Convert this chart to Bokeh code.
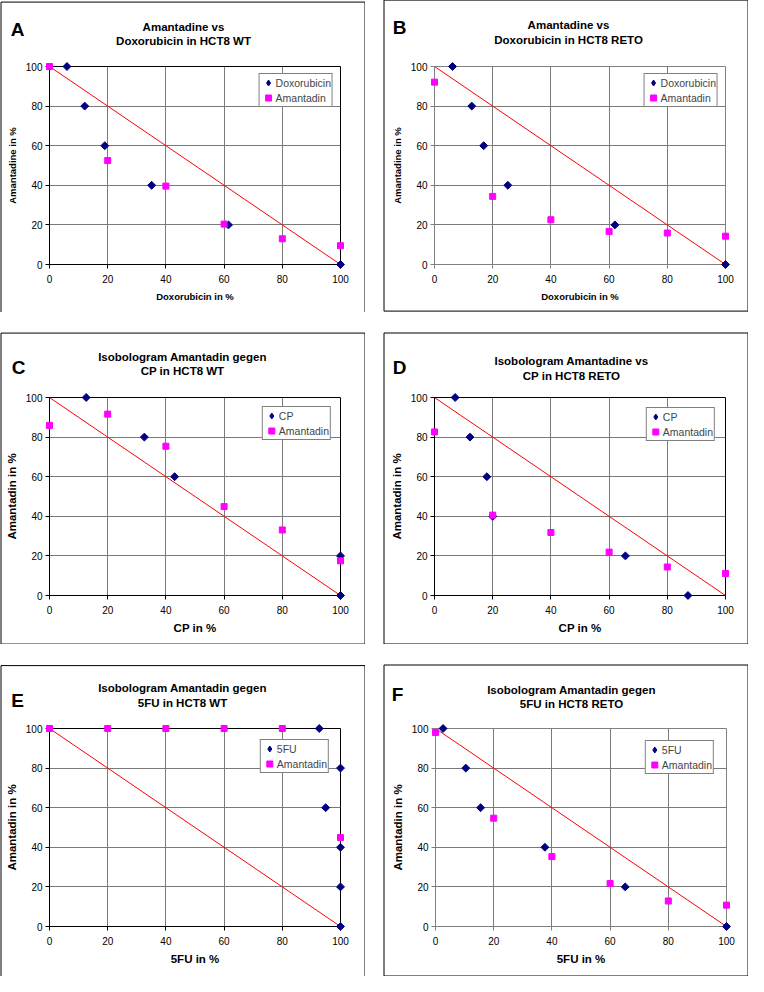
from bokeh.plotting import figure
from bokeh.layouts import row, column
from bokeh.models import Legend, LegendItem, FixedTicker, Range1d
from bokeh.core.properties import value
from bokeh.embed import file_html
from bokeh.resources import INLINE

FONT = "Liberation Sans"

# ---------------- data ----------------
pct_ticks = [0, 20, 40, 60, 80, 100]
additive_x = [0, 100]          # line of additivity
additive_y = [100, 0]
amantadin_x = [0, 20, 40, 60, 80, 100]
partner_y = [100, 80, 60, 40, 20, 0]

a_dox_x = [6.0, 12.1, 19.0, 35.1, 61.5, 100]
a_dox_y = partner_y
a_ama_y = [100, 52.5, 39.6, 20.4, 13.0, 9.5]

b_dox_x = [6.2, 12.8, 16.9, 25.2, 62.0, 100]
b_dox_y = partner_y
b_ama_y = [92.1, 34.4, 22.6, 16.7, 15.9, 14.3]

c_cp_x = [12.6, 32.6, 43.0, 100, 100]
c_cp_y = [100, 80, 60, 20, 0]
c_ama_y = [85.9, 91.6, 75.4, 44.9, 33.1, 17.5]

d_cp_x = [7.1, 12.2, 18.0, 20.0, 65.6, 87.1]
d_cp_y = partner_y
d_ama_y = [82.6, 40.6, 31.8, 21.9, 14.4, 11.1]

e_5fu_x = [92.7, 100, 94.9, 100, 100, 100]
e_5fu_y = partner_y
e_ama_y = [100, 100, 100, 100, 100, 44.9]

f_5fu_x = [2.6, 10.4, 15.5, 37.6, 65.2, 100]
f_5fu_y = partner_y
f_ama_y = [98.0, 54.7, 35.3, 21.7, 12.9, 10.8]

panels = [
    dict(letter="A", title=["Amantadine vs", "Doxorubicin in HCT8 WT"],
         xlabel="Doxorubicin in %", ylabel="Amantadine in %", drug="Doxorubicin",
         dx=a_dox_x, dy=a_dox_y, ay=a_ama_y),
    dict(letter="B", title=["Amantadine vs", "Doxorubicin in HCT8 RETO"],
         xlabel="Doxorubicin in %", ylabel="Amantadine in %", drug="Doxorubicin",
         dx=b_dox_x, dy=b_dox_y, ay=b_ama_y),
    dict(letter="C", title=["Isobologram Amantadin gegen", "CP in HCT8 WT"],
         xlabel="CP in %", ylabel="Amantadin in %", drug="CP",
         dx=c_cp_x, dy=c_cp_y, ay=c_ama_y),
    dict(letter="D", title=["Isobologram Amantadine vs", "CP in HCT8 RETO"],
         xlabel="CP in %", ylabel="Amantadin in %", drug="CP",
         dx=d_cp_x, dy=d_cp_y, ay=d_ama_y),
    dict(letter="E", title=["Isobologram Amantadin gegen", "5FU in HCT8 WT"],
         xlabel="5FU in %", ylabel="Amantadin in %", drug="5FU",
         dx=e_5fu_x, dy=e_5fu_y, ay=e_ama_y),
    dict(letter="F", title=["Isobologram Amantadin gegen", "5FU in HCT8 RETO"],
         xlabel="5FU in %", ylabel="Amantadin in %", drug="5FU",
         dx=f_5fu_x, dy=f_5fu_y, ay=f_ama_y),
]

# ---------------- geometry / style ----------------
PW, PH = 365, 312
FW = 291
geom = {
    "A": dict(L=49, T=64, H=200, tx=183, ty=(24, 38), lx=17, ly=27, lm=7, oc="#000000", afs="9.5px"),
    "B": dict(L=51, T=66, H=200, tx=185, ty=(24, 39), lx=16, ly=27, lm=7, oc="#808080", afs="9.5px"),
    "C": dict(L=49, T=64, H=200, tx=182, ty=(23, 37), lx=18, ly=34, lm=9, oc="#000000", afs="11.5px"),
    "D": dict(L=51, T=65, H=198, tx=188, ty=(28, 43), lx=16, ly=35, lm=10, oc="#000000", afs="11.5px"),
    "E": dict(L=49, T=62, H=201, tx=182, ty=(21, 36), lx=17, ly=34, lm=11, oc="#000000", afs="11.5px"),
    "F": dict(L=52, T=64, H=198, tx=188, ty=(25, 39), lx=14, ly=30, lm=12, oc="#808080", afs="11.5px"),
}
NAVY = "#000080"
MAGENTA = "#FF00FF"
NAN = float("nan")


def make_panel(pn):
    g = geom[pn["letter"]]
    x0, x1 = pct_ticks[0], pct_ticks[-1]
    y0, y1 = pct_ticks[0], pct_ticks[-1]
    p = figure(width=PW, height=PH, output_backend="svg", toolbar_location=None,
               x_range=Range1d(x0, x1), y_range=Range1d(y0, y1),
               min_border_left=g["L"], min_border_top=g["T"],
               min_border_right=PW - g["L"] - FW,
               min_border_bottom=PH - g["T"] - g["H"],
               background_fill_color="white", border_fill_color="white")
    p.outline_line_color = g["oc"]
    p.outline_line_width = 1
    for ax in (p.xaxis[0], p.yaxis[0]):
        ax.ticker = FixedTicker(ticks=pct_ticks)
        ax.axis_line_color = g["oc"]
        ax.major_tick_line_color = g["oc"]
        ax.major_tick_out = 4
        ax.major_tick_in = 0
        ax.minor_tick_line_color = None
        ax.major_label_text_font = FONT
        ax.major_label_text_font_size = "10px"
        ax.major_label_text_color = "black"
        ax.axis_label_text_font = FONT
        ax.axis_label_text_font_size = g["afs"]
        ax.axis_label_text_font_style = "bold"
        ax.axis_label_text_color = "black"
        ax.axis_label_standoff = 5
    p.xaxis.major_label_standoff = 6
    p.yaxis.major_label_standoff = 3
    p.xaxis.axis_label = pn["xlabel"]
    p.yaxis.axis_label = pn["ylabel"]
    for gr in (p.xgrid[0], p.ygrid[0]):
        gr.ticker = FixedTicker(ticks=pct_ticks)
        gr.grid_line_color = "#7a7a7a"
        gr.grid_line_width = 1

    p.line(additive_x, additive_y, line_color="#FF0000", line_width=1)
    p.scatter(pn["dx"], pn["dy"], marker="square", angle=0.785398, size=5.6,
              fill_color=NAVY, line_color=NAVY, level="overlay")
    r_ama = p.scatter(amantadin_x, pn["ay"], marker="square", size=6,
                      fill_color=MAGENTA, line_color=MAGENTA, level="overlay")
    # legend key for the diamond series (nothing drawn in the plot area)
    r_key = p.scatter([NAN], [NAN], marker="diamond", size=9,
                      fill_color=NAVY, line_color=NAVY)

    legend = Legend(items=[LegendItem(label=pn["drug"], renderers=[r_key]),
                           LegendItem(label="Amantadin", renderers=[r_ama])],
                    location="top_right", margin=g["lm"],
                    border_line_color="black", border_line_width=1,
                    background_fill_color="white", background_fill_alpha=1,
                    label_text_font=FONT, label_text_font_size="10.5px",
                    glyph_width=15, glyph_height=15, label_height=15,
                    label_standoff=0, padding=1, spacing=0)
    p.add_layout(legend)

    # texts anchored at the top-left corner of the plot area, offset in pixels
    for txt, cy in zip(pn["title"], g["ty"]):
        p.text(x=[x0], y=[y1], text=[txt], x_offset=g["tx"] - g["L"], y_offset=cy - g["T"],
               text_font=value(FONT), text_font_size=value("11.5px"),
               text_font_style="bold", text_align="center", text_baseline="middle",
               text_color="black", level="overlay")
    p.text(x=[x0], y=[y1], text=[pn["letter"]], x_offset=g["lx"] - g["L"], y_offset=g["ly"] - g["T"],
           text_font=value(FONT), text_font_size=value("19px"),
           text_font_style="bold", text_align="center", text_baseline="middle",
           text_color="black", level="overlay")

    # panel frame box (whole canvas)
    cx = x0 + (PW / 2 - g["L"]) / FW * (x1 - x0)
    cy = y0 + (g["T"] + g["H"] - PH / 2) / g["H"] * (y1 - y0)
    p.rect(x=[cx], y=[cy], width=PW - 1, height=PH - 1, width_units="screen",
           height_units="screen", fill_color=None, line_color="black", line_width=1,
           level="overlay")
    return p


figs = [make_panel(pn) for pn in panels]
layout = column(row(figs[0], figs[1], spacing=18),
                row(figs[2], figs[3], spacing=18),
                row(figs[4], figs[5], spacing=18),
                spacing=20)

open("out.html", "w").write(file_html(layout, INLINE))
